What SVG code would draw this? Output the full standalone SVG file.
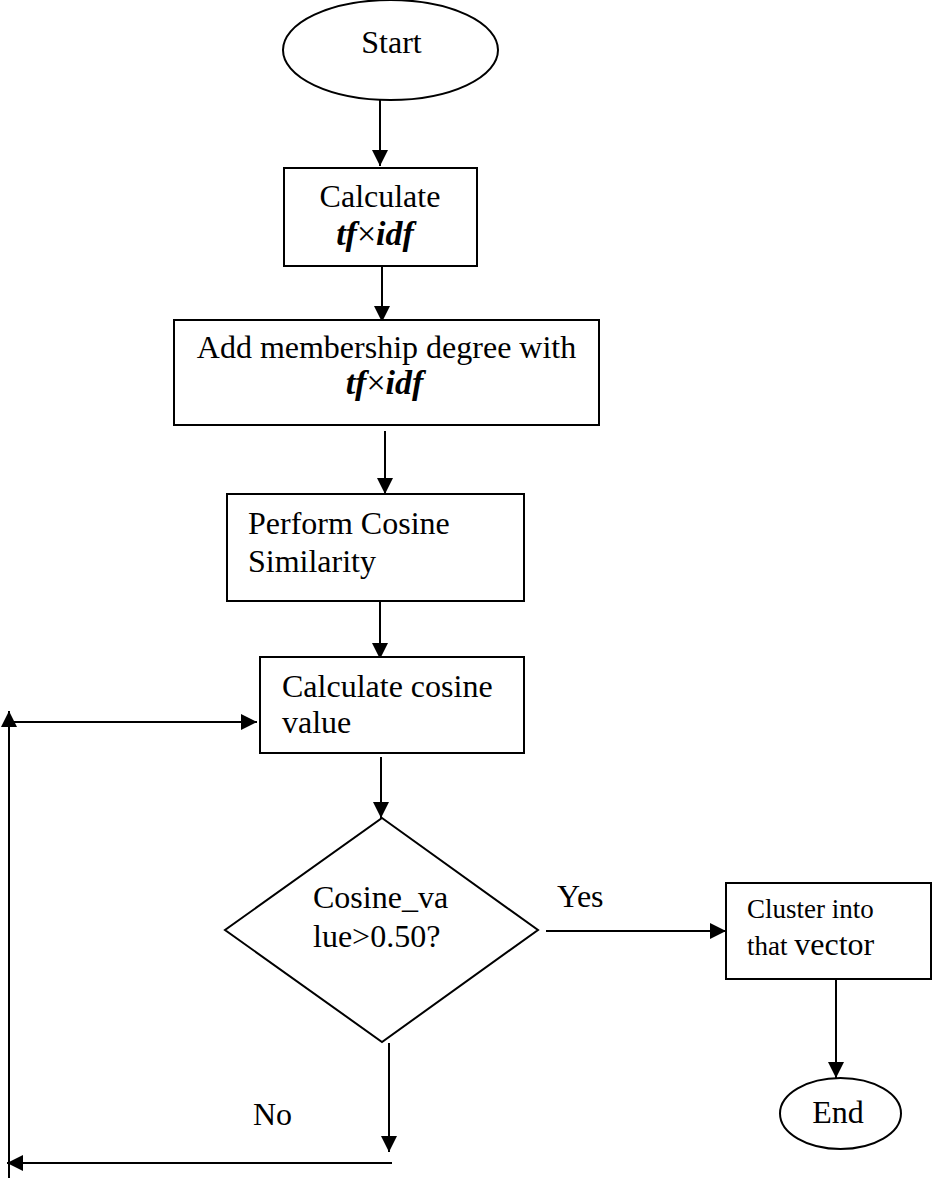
<svg xmlns="http://www.w3.org/2000/svg" width="932" height="1180" viewBox="0 0 932 1180">
<defs>
<style>
.shape{fill:#ffffff;stroke:#000000;stroke-width:2}
.conn{fill:none;stroke:#000000;stroke-width:2}
text{font-family:"Liberation Serif","Times New Roman",serif;font-size:32px;fill:#000000}
.c{text-anchor:middle}
.bi{font-weight:bold;font-style:italic;font-size:34px}
.sm{font-size:27px}
</style>
<marker id="ah" viewBox="0 0 16 16" refX="16" refY="8" markerWidth="16" markerHeight="16" markerUnits="userSpaceOnUse" orient="auto">
<path d="M0,0 L16,8 L0,16 z" fill="#000000"/>
</marker>
</defs>
<rect width="932" height="1180" fill="#ffffff"/>
<g id="connectors">
<line class="conn" x1="380" y1="100" x2="380" y2="166" marker-end="url(#ah)"/>
<line class="conn" x1="382" y1="266" x2="382" y2="322" marker-end="url(#ah)"/>
<line class="conn" x1="385" y1="431" x2="385" y2="494" marker-end="url(#ah)"/>
<line class="conn" x1="380" y1="601" x2="380" y2="659" marker-end="url(#ah)"/>
<line class="conn" x1="381" y1="757" x2="381" y2="818" marker-end="url(#ah)"/>
<line class="conn" x1="546" y1="931" x2="726" y2="931" marker-end="url(#ah)"/>
<line class="conn" x1="836" y1="979" x2="836" y2="1078" marker-end="url(#ah)"/>
<line class="conn" x1="389" y1="1043" x2="389" y2="1152" marker-end="url(#ah)"/>
<line class="conn" x1="392" y1="1163" x2="7" y2="1163" marker-end="url(#ah)"/>
<line class="conn" x1="9" y1="1178" x2="9" y2="711" marker-end="url(#ah)"/>
<line class="conn" x1="9" y1="722" x2="257" y2="722" marker-end="url(#ah)"/>
</g>
<g id="start">
<ellipse class="shape" cx="390.5" cy="50" rx="107.5" ry="50"/>
<text class="c" x="391.5" y="53">Start</text>
</g>
<g id="calc-tfidf">
<rect class="shape" x="284" y="168" width="193" height="98"/>
<text class="c" x="380" y="207">Calculate</text>
<text class="c bi" x="375" y="245">tf<tspan font-weight="normal" font-style="normal">×</tspan>idf</text>
</g>
<g id="add-membership">
<rect class="shape" x="174" y="320" width="425" height="105"/>
<text class="c" x="386.5" y="358">Add membership degree with</text>
<text class="c bi" x="384.5" y="394">tf<tspan font-weight="normal" font-style="normal">×</tspan>idf</text>
</g>
<g id="perform-cosine">
<rect class="shape" x="227" y="494" width="297" height="107"/>
<text x="248" y="534">Perform Cosine</text>
<text x="248" y="572">Similarity</text>
</g>
<g id="calc-cosine">
<rect class="shape" x="260" y="657" width="264" height="96"/>
<text x="282" y="697">Calculate cosine</text>
<text x="282" y="733">value</text>
</g>
<g id="decision">
<polygon class="shape" points="382,818 538,930 382,1042 225,930"/>
<text x="313" y="908">Cosine_va</text>
<text x="313" y="947">lue&gt;0.50?</text>
</g>
<g id="cluster">
<rect class="shape" x="726" y="883" width="205" height="96"/>
<text class="sm" x="747" y="918">Cluster into</text>
<text x="747" y="955"><tspan class="sm">that </tspan>vector</text>
</g>
<g id="end">
<ellipse class="shape" cx="840.5" cy="1113.5" rx="60.5" ry="35.5"/>
<text class="c" x="838" y="1123">End</text>
</g>
<g id="labels">
<text x="557" y="907">Yes</text>
<text x="253" y="1125">No</text>
</g>
</svg>
